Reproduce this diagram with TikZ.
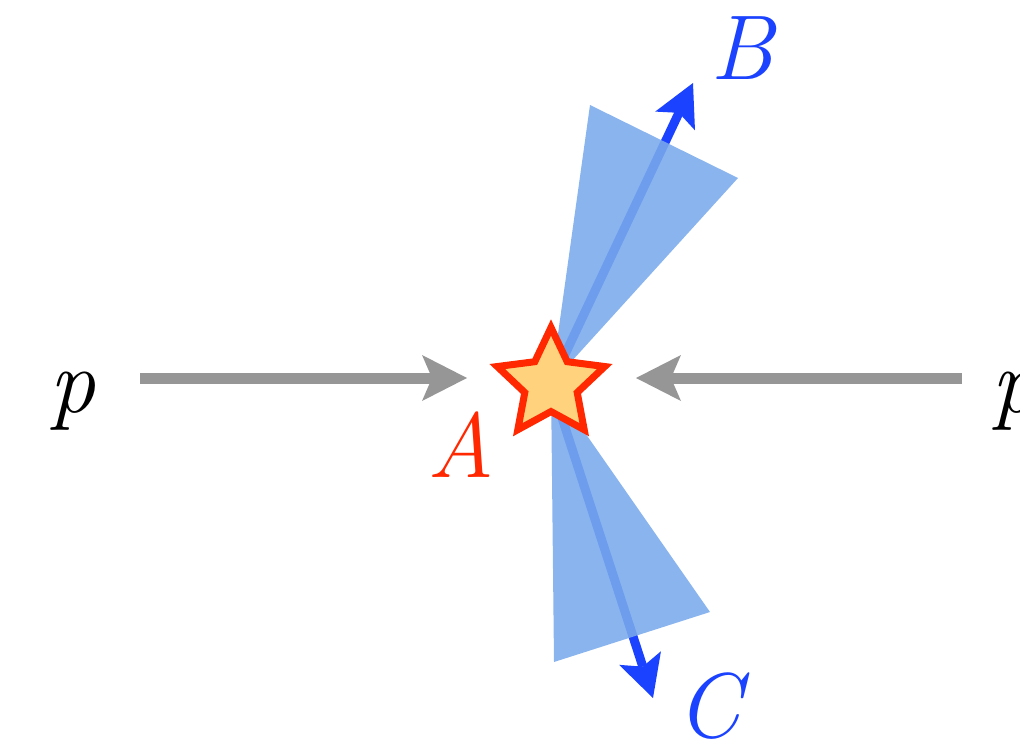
\documentclass[tikz,border=0pt]{standalone}
\usepackage{fontspec}
\usetikzlibrary{arrows.meta,shapes.geometric,backgrounds}
\definecolor{arrgray}{RGB}{150,150,150}
\definecolor{arrblue}{RGB}{26,66,255}
\definecolor{coneblue}{RGB}{122,170,236}
\definecolor{starred}{RGB}{255,40,0}
\definecolor{starfill}{RGB}{255,210,125}
\begin{document}
\begin{tikzpicture}[x=1pt,y=-1pt,
  lbl/.style={font=\fontsize{92}{100}\selectfont\itshape, inner sep=0pt, anchor=base},
  grayarrow/.style={draw=arrgray, line width=11pt, -{Stealth[length=45pt,width=46pt,inset=10pt,line width=0pt]}},
  bluearrow/.style={draw=arrblue, line width=9pt, -{Stealth[length=42pt,width=44pt,inset=9pt,line width=0pt]}},
  cone/.style={fill=coneblue, fill opacity=0.88},
  starnode/.style={star, star points=5, star point ratio=2.05, minimum size=113pt, inner sep=0pt,
    draw=starred, fill=starfill, line width=7pt}]
\useasboundingbox (0,0) rectangle (1020,741);
\node[starnode] (A) at (551,384) {};
\node[lbl] (pl) at (72,412) {p};
\node[lbl] (pr) at (1014,412) {p};
\node[lbl, text=starred] (la) at (461,477) {A};
\node[lbl, text=arrblue] (lb) at (742,80) {B};
\node[lbl, text=arrblue] (lc) at (709,737) {C};
\coordinate (gl0) at (140,378);
\coordinate (gl1) at (467,378);
\coordinate (gr0) at (962,378);
\coordinate (gr1) at (636,378);
\coordinate (tb) at (693,83);
\coordinate (tc) at (653,698);
\coordinate (b1) at (590,105);
\coordinate (b2) at (738,178);
\coordinate (c1) at (554,662);
\coordinate (c2) at (710,612);
\begin{scope}[on background layer]
  \draw[grayarrow] (gl0) -- (gl1);
  \draw[grayarrow] (gr0) -- (gr1);
  \draw[bluearrow] (A.center) -- (tb);
  \draw[bluearrow] (A.center) -- (tc);
  \fill[cone] (A.center) -- (b1) -- (b2) -- cycle;
  \fill[cone] (A.center) -- (c1) -- (c2) -- cycle;
\end{scope}
\end{tikzpicture}
\end{document}
